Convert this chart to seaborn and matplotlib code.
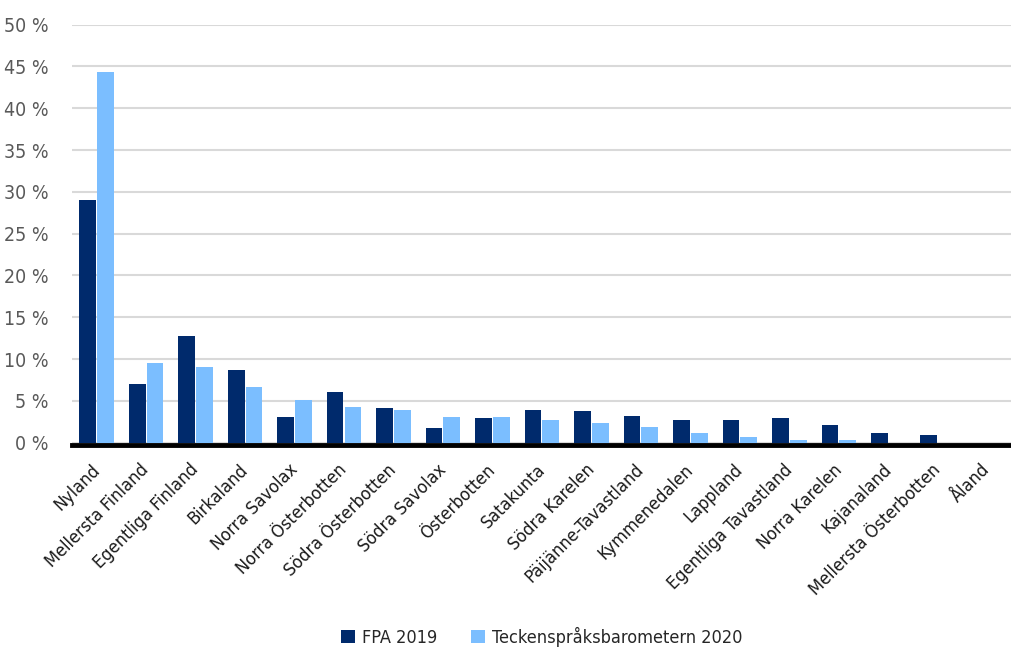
import matplotlib
matplotlib.use("Agg")
import matplotlib.pyplot as plt
import matplotlib.transforms as mtrans
import seaborn as sns
import pandas as pd
from matplotlib.font_manager import fontManager

regions = ["Nyland", "Mellersta Finland", "Egentliga Finland", "Birkaland", "Norra Savolax",
           "Norra Österbotten", "Södra Österbotten", "Södra Savolax", "Österbotten", "Satakunta",
           "Södra Karelen", "Päijänne-Tavastland", "Kymmenedalen", "Lappland",
           "Egentliga Tavastland", "Norra Karelen", "Kajanaland", "Mellersta Österbotten", "Åland"]
fpa_2019 = [29.0, 7.0, 12.8, 8.7, 3.1, 6.0, 4.1, 1.8, 2.9, 3.9, 3.8, 3.2, 2.7, 2.7, 3.0, 2.1, 1.1, 0.9, 0.0]
teck_2020 = [44.4, 9.5, 9.1, 6.7, 5.1, 4.3, 3.9, 3.1, 3.1, 2.7, 2.3, 1.9, 1.1, 0.7, 0.3, 0.3, 0.0, 0.0, 0.0]
series = ["FPA 2019", "Teckenspråksbarometern 2020"]
yticks = [0, 5, 10, 15, 20, 25, 30, 35, 40, 45, 50]

df = pd.DataFrame({
    "region": regions * 2,
    "value": fpa_2019 + teck_2020,
    "series": [series[0]] * len(regions) + [series[1]] * len(regions),
})

sns.set_theme(style="white")

# pick a condensed / narrow font if one is installed
cand = [f for f in fontManager.ttflist
        if ("narrow" in f.name.lower() or "condensed" in str(f.stretch).lower()
            or "condensed" in f.fname.lower())
        and f.weight in (400, "normal", "regular") and f.style == "normal"]
if cand:
    pref = sorted(cand, key=lambda f: (0 if "Liberation" in f.name else 1 if "DejaVu Sans" == f.name else 2))
    f0 = pref[0]
    plt.rcParams["font.family"] = [f0.name, "DejaVu Sans"]
    plt.rcParams["font.stretch"] = f0.stretch
else:
    plt.rcParams["font.family"] = ["Liberation Sans", "DejaVu Sans"]

fig = plt.figure(figsize=(10.12, 6.5), dpi=100)
ax = fig.add_axes([0.071, 0.319, 0.929, 0.643])

palette = {series[0]: "#002A6C", series[1]: "#7BBEFF"}
sns.barplot(data=df, x="region", y="value", hue="series", palette=palette,
            width=0.72, gap=0.06, saturation=1, ax=ax, legend=True, zorder=3,
            linewidth=0)

ax.set_ylim(0, 50)
ax.set_yticks(yticks)
ax.set_yticklabels([f"{t} %" for t in yticks], fontsize=14, color="#595959")
ax.yaxis.grid(True, color="#d9d9d9", linewidth=1.5)
ax.set_axisbelow(True)
for s in ["top", "right", "left"]:
    ax.spines[s].set_visible(False)
ax.spines["bottom"].set_color("black")
ax.spines["bottom"].set_linewidth(3.5)
ax.spines["bottom"].set_position(("outward", 2))
ax.spines["bottom"].set_zorder(5)
ax.tick_params(axis="y", length=0, pad=16.5)
ax.tick_params(axis="x", length=0, pad=11)
ax.set_xlim(-0.5, len(regions) - 0.5)
ax.set_xlabel("")
ax.set_ylabel("")
ax.set_xticks(range(len(regions)))
ax.set_xticklabels(regions, rotation=45, ha="right", rotation_mode="anchor",
                   fontsize=13, color="#1a1a1a")
shift = mtrans.ScaledTranslation(-0.06, 0, fig.dpi_scale_trans)
for lab in ax.get_xticklabels():
    lab.set_transform(lab.get_transform() + shift)

leg = ax.legend(loc="center", bbox_to_anchor=(0.5, -0.464), ncol=2,
                frameon=False, fontsize=13, handlelength=0.75, handleheight=0.75,
                columnspacing=1.9, handletextpad=0.4)

fig.savefig("out.png", dpi=100)
